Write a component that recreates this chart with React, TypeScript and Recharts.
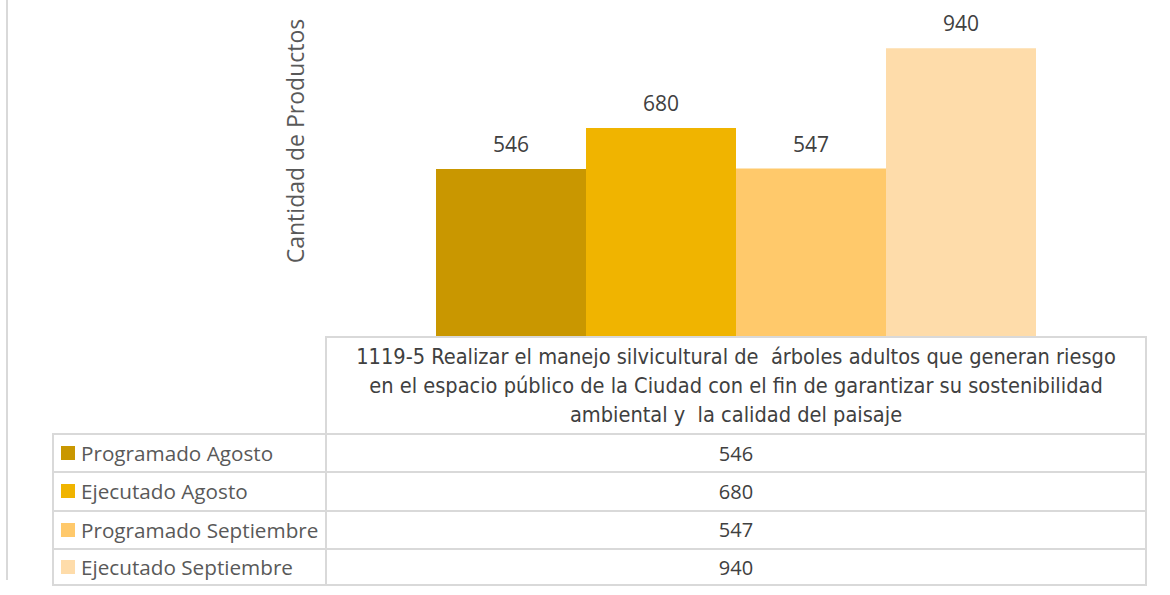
import { BarChart, Bar, XAxis, YAxis, LabelList } from 'recharts';

// category text, as wrapped in the original table header
const categoryLines = [
  '1119-5 Realizar el manejo silvicultural de  árboles adultos que generan riesgo',
  'en el espacio público de la Ciudad con el fin de garantizar su sostenibilidad',
  'ambiental y  la calidad del paisaje',
];
const categories = [categoryLines.join(' ')];

const seriesNames = [
  'Programado Agosto',
  'Ejecutado Agosto',
  'Programado Septiembre',
  'Ejecutado Septiembre',
];
const programadoAgosto = [546];
const ejecutadoAgosto = [680];
const programadoSeptiembre = [547];
const ejecutadoSeptiembre = [940];

const yAxisTitle = 'Cantidad de Productos';

const seriesValues = [programadoAgosto, ejecutadoAgosto, programadoSeptiembre, ejecutadoSeptiembre];
const colors = ['#C99700', '#F0B400', '#FFC96B', '#FEDCAA'];

const data = categories.map((name, i) => {
  const row: Record<string, string | number> = { name };
  seriesNames.forEach((s, j) => {
    row[s] = seriesValues[j][i];
  });
  return row;
});

const W = 1170;
const H = 595;
const plotLeft = 325;
const plotRight = 1147;
const baseY = 336;
const headerBottom = 433;
const rowH = 38.3;
const legendLeft = 52;
const gridColor = '#D9D9D9';
const textColor = '#595959';

const App = () => {
  return (
    <div style={{ position: 'absolute', left: 0, top: 0, width: W, height: H, background: '#fff' }}>
      {/* outer chart border on the left */}
      <div style={{ position: 'absolute', left: 6, top: 0, width: 2, height: 580, background: gridColor }} />

      <BarChart
        width={W}
        height={H}
        data={data}
        margin={{ top: 30, right: W - plotRight, bottom: H - baseY, left: plotLeft }}
        barCategoryGap={111}
        barGap={0}
      >
        <XAxis hide dataKey='name' />
        <YAxis hide domain={[0, 1000]} />
        {seriesNames.map((s, i) => (
          <Bar key={s} dataKey={s} fill={colors[i]} isAnimationActive={false}>
            <LabelList
              dataKey={s}
              position='top'
              offset={17}
              fill='#404040'
              fontSize={21}
              fontFamily='"Open Sans", sans-serif'
            />
          </Bar>
        ))}
      </BarChart>

      {/* y axis title */}
      <div
        style={{
          position: 'absolute',
          left: 295,
          top: 141,
          transform: 'translate(-50%, -50%) rotate(-90deg)',
          whiteSpace: 'nowrap',
          fontFamily: '"Open Sans", sans-serif',
          fontSize: 23,
          color: textColor,
        }}
      >
        {yAxisTitle}
      </div>

      {/* data table: header cell */}
      <div
        style={{
          position: 'absolute',
          left: plotLeft,
          top: baseY,
          width: plotRight - plotLeft,
          height: headerBottom - baseY,
          borderTop: `2px solid ${gridColor}`,
          borderLeft: `2px solid ${gridColor}`,
          borderRight: `2px solid ${gridColor}`,
          boxSizing: 'border-box',
          display: 'flex',
          flexDirection: 'column',
          justifyContent: 'center',
          alignItems: 'center',
          fontFamily: '"Liberation Sans Narrow", "DejaVu Sans Condensed", sans-serif',
          fontSize: 21.6,
          lineHeight: '29px',
          color: '#404040',
        }}
      >
        {categoryLines.map((l) => (
          <div key={l} style={{ whiteSpace: 'pre' }}>
            {l}
          </div>
        ))}
      </div>

      {/* data table: series rows */}
      {seriesNames.map((s, i) => (
        <div key={s}>
          <div
            style={{
              position: 'absolute',
              left: legendLeft,
              top: headerBottom + i * rowH,
              width: plotLeft - legendLeft,
              height: rowH,
              borderTop: `2px solid ${gridColor}`,
              borderLeft: `2px solid ${gridColor}`,
              borderBottom: i === seriesNames.length - 1 ? `2px solid ${gridColor}` : undefined,
              boxSizing: 'border-box',
              display: 'flex',
              alignItems: 'center',
              fontFamily: '"Open Sans", sans-serif',
              fontSize: 20.7,
              color: textColor,
            }}
          >
            <span style={{ width: 14, height: 14, background: colors[i], marginLeft: 7, marginRight: 6, flexShrink: 0 }} />
            {s}
          </div>
          <div
            style={{
              position: 'absolute',
              left: plotLeft,
              top: headerBottom + i * rowH,
              width: plotRight - plotLeft,
              height: rowH,
              borderTop: `2px solid ${gridColor}`,
              borderLeft: `2px solid ${gridColor}`,
              borderRight: `2px solid ${gridColor}`,
              borderBottom: i === seriesNames.length - 1 ? `2px solid ${gridColor}` : undefined,
              boxSizing: 'border-box',
              display: 'flex',
              alignItems: 'center',
              justifyContent: 'center',
              fontFamily: '"Open Sans", sans-serif',
              fontSize: 20,
              color: '#404040',
            }}
          >
            {seriesValues[i][0]}
          </div>
        </div>
      ))}
    </div>
  );
};

export default App;
